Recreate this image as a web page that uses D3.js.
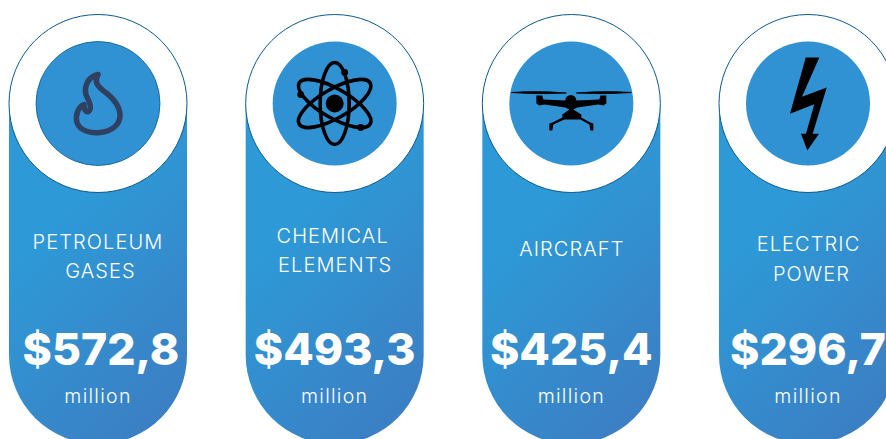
<!DOCTYPE html>
<html>
<head>
<meta charset="utf-8">
<title>Top exports</title>
<style>
  body { margin: 0; background: #fff; overflow: hidden; }
  svg { display: block; }
  text { font-family: Inter, "Open Sans", sans-serif; fill: #fff; text-anchor: middle; }
  .label { font-size: 20px; font-weight: 300; letter-spacing: 1.1px; }
  .value { font-size: 44.5px; font-weight: 800; }
  .unit { font-size: 19.5px; font-weight: 300; letter-spacing: 1.3px; }
</style>
</head>
<body>
<script src="https://cdn.jsdelivr.net/npm/d3@7"></script>
<script>
// data
const categories = ["petroleum", "chemical", "aircraft", "electric"];
const labelLines = [["PETROLEUM", "GASES"], ["CHEMICAL", "ELEMENTS"], ["AIRCRAFT"], ["ELECTRIC", "POWER"]];
const values = [572.8, 493.3, 425.4, 296.7];
const unit = "million";

// layout
const width = 886, height = 439;
const outerR = 89, innerR = 62, topY = 103.5, pillBottom = 444;
const labelBaseline = [249, 243, 256, 251];
const lineGap = [29, 29, 0, 30];
const lineShift = [[0, 2.5], [-2, 0.5], [0.5], [0.5, 3.5]];
const valueShift = [3, 0, 0, 0];

const x = d3.scalePoint().domain(categories).range([98, 808]);

const euro = d3.formatLocale({ decimal: ",", thousands: ".", grouping: [3], currency: ["$", ""] });
const fmt = euro.format("$.1f");

const svg = d3.select("body").append("svg")
  .attr("width", width)
  .attr("height", height);

const grad = svg.append("defs").append("linearGradient")
  .attr("id", "pill")
  .attr("x1", 0.32).attr("y1", 0.3)
  .attr("x2", 0.68).attr("y2", 1);
grad.append("stop").attr("offset", 0).attr("stop-color", "#2d9ad7");
grad.append("stop").attr("offset", 1).attr("stop-color", "#3b7fc4");

const cards = svg.selectAll("g.card")
  .data(categories)
  .join("g")
  .attr("class", "card")
  .attr("transform", d => `translate(${x(d)},0)`);

// pill body, arc at the bottom
cards.append("path")
  .attr("d", `M${-outerR},${topY} H${outerR} V${pillBottom - outerR} A${outerR},${outerR} 0 0 1 ${-outerR},${pillBottom - outerR} Z`)
  .attr("fill", "url(#pill)");

cards.append("circle")
  .attr("cy", topY)
  .attr("r", outerR)
  .attr("fill", "#fff")
  .attr("stroke", "#0b5a8e")
  .attr("stroke-width", 1);

cards.append("circle")
  .attr("cy", topY)
  .attr("r", innerR)
  .attr("fill", "#3092d2")
  .attr("stroke", (d, i) => i == 0 ? "#0b5a8e" : "none")
  .attr("stroke-width", 0.8);

const icons = cards.append("g")
  .attr("transform", `translate(0,${topY})`);

// flame
icons.filter(d => d == "petroleum").append("path")
  .attr("d", "M0,-29 C-10,-27 -14,-17 -12,-9 C-10,-3 -6,1 -8,6 C-10,10 -14,9 -14,1 C-20,3 -23,13 -21,19 C-18,28 -6,30 2,29 C14,28 22,21 22,12 C22,0 12,-8 5,-13 C-1,-18 -4,-22 0,-29 Z")
  .attr("fill", "none")
  .attr("stroke", "#2f4060")
  .attr("stroke-width", 5.5)
  .attr("stroke-linejoin", "round");

// atom
const atom = icons.filter(d => d == "chemical");
[0, 60, -60].forEach(a => {
  atom.append("ellipse")
    .attr("rx", 14.5).attr("ry", 41)
    .attr("transform", `rotate(${a})`)
    .attr("fill", "none")
    .attr("stroke", "#000")
    .attr("stroke-width", 3.6);
});
atom.append("circle").attr("r", 9).attr("fill", "#000");
[[10, -31], [-34, -9], [26, 24]].forEach(p => {
  atom.append("circle").attr("cx", p[0]).attr("cy", p[1]).attr("r", 3.4).attr("fill", "#000");
});

// drone
const drone = icons.filter(d => d == "aircraft");
drone.append("path")
  .attr("d", "M-60,-11 Q-35,-13 -5,-10.5 Q-35,-9 -60,-11 Z M60,-11 Q35,-13 5,-10.5 Q35,-9 60,-11 Z")
  .attr("fill", "#000").attr("stroke", "#000").attr("stroke-width", 0.8);
drone.append("path")
  .attr("d", "M-35,-8 L-29,-8 L-28,-4 L-6,-3 A5.5,5.5 0 0 1 5,-3 L28,-4 L29,-8 L35,-8 L35,0 L32,2 L27,1 L6,4 L2,6 L10,11 L10,14 L19,19 L22,20 L22,27 L19,27 L18,21 L9,16 L-7,16 L-18,21 L-19,27 L-22,27 L-22,20 L-19,19 L-9,14 L-9,11 L-2,6 L-6,4 L-27,1 L-32,2 L-35,0 Z")
  .attr("fill", "#000");

// bolt
icons.filter(d => d == "electric").append("path")
  .attr("d", "M-2.3,-46 L11.3,-46 L-6,-6.7 L18.7,-16 L4.7,30.3 L11,30.3 L-0.7,47 L-7,30.3 L-2,30.3 L6.3,0.7 L-18,10.3 Z")
  .attr("fill", "#000");

// category label, one or two lines
cards.each(function (d, i) {
  d3.select(this).selectAll("text.label")
    .data(labelLines[i])
    .join("text")
    .attr("class", "label")
    .attr("x", (t, j) => lineShift[i][j])
    .attr("y", (t, j) => labelBaseline[i] + j * lineGap[i])
    .text(t => t);
});

cards.append("text")
  .attr("class", "value")
  .attr("x", (d, i) => valueShift[i])
  .attr("y", 365)
  .text((d, i) => fmt(values[i]));

cards.append("text")
  .attr("class", "unit")
  .attr("y", 403)
  .text(unit);
</script>
</body>
</html>
